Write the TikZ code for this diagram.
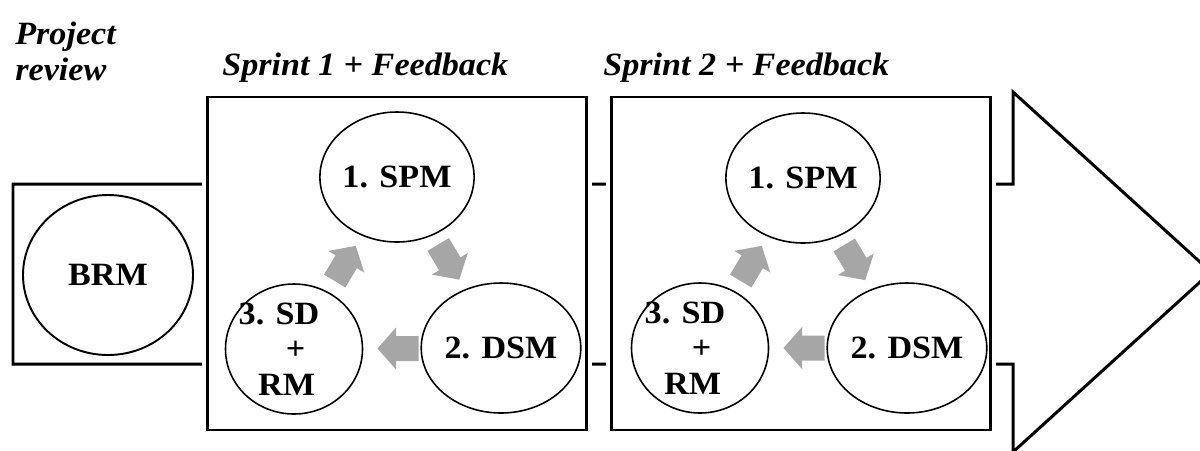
\documentclass[tikz,border=0pt]{standalone}
\usepackage{fontspec}
\setmainfont{Liberation Serif}[FakeStretch=1.05]
\usepackage{tikz}
\usetikzlibrary{shapes.geometric,calc}
\definecolor{arrowgray}{RGB}{166,166,166}

\begin{document}
\begin{tikzpicture}[
    phasebox/.style={draw=black, fill=white, line width=1.5pt,
        minimum width=7.58cm, minimum height=6.66cm,
        preaction={draw=white, line width=0.22cm}},
    stepcirc/.style={ellipse, draw=black, line width=0.9pt, fill=white,
        minimum width=2.74cm, minimum height=2.6cm, inner sep=0pt,
        font=\fontsize{18.5}{20}\selectfont\bfseries},
    steptxt/.style={font=\fontsize{18.5}{20.2}\selectfont\bfseries, inner sep=0pt},
    titlelbl/.style={font=\fontsize{18.5}{20.5}\selectfont\bfseries\itshape, inner sep=0pt},
    cyclearr/.pic={
        \fill[arrowgray] (-0.42,-0.25) -- (0.03,-0.25) -- (0.03,-0.42) -- (0.4,0)
            -- (0.03,0.42) -- (0.03,0.25) -- (-0.42,0.25) -- cycle;},
]
\useasboundingbox (0,0) rectangle (24,-9);

% === BIG ARROW (runs through both sprints) ===
\draw[line width=1.7pt, line join=miter]
    (0.26,-3.68) -- (20.26,-3.68) -- (20.26,-1.84) -- (24.22,-5.44)
    -- (20.26,-9.04) -- (20.26,-7.28) -- (0.26,-7.28) -- cycle;
\node[titlelbl, align=left, anchor=north west, font=\fontsize{18.5}{20.4}\selectfont\bfseries\itshape]
    (review) at (0.3,-0.44) {Project\\review};

% === BRM ===
\node[stepcirc, minimum width=3.4cm, minimum height=3.2cm, line width=1.1pt] (brm) at (2.16,-5.5) {BRM};

% === SPRINT 1 ===
\node[phasebox] (sprintA) at (7.94,-5.27) {};
\node[titlelbl, anchor=base west] (titleA) at (4.44,-1.5) {Sprint 1 + Feedback};
\node[stepcirc] (spmA) at (7.94,-3.54) {1. SPM};
\node[stepcirc] (dsmA) at (10.02,-6.96) {2. DSM};
\node[stepcirc] (sdA) at (5.88,-6.98) {};
\node[steptxt, align=left] (sdtxtA) at ([xshift=-0.3cm]sdA.center)
    {3. SD\\\hspace*{1.45em}+\\\hspace*{0.6em}RM};
\pic[rotate=-59] (arrA1) at ($(spmA)!0.5!(dsmA)$) {cyclearr};
\pic[rotate=180] (arrA2) at ($(dsmA)!0.5!(sdA)$) {cyclearr};
\pic[rotate=59]  (arrA3) at ($(sdA)!0.5!(spmA)$) {cyclearr};

% === SPRINT 2 ===
\node[phasebox] (sprintB) at (16.02,-5.27) {};
\node[titlelbl, anchor=base west] (titleB) at (12.06,-1.5) {Sprint 2 + Feedback};
\node[stepcirc] (spmB) at (16.06,-3.56) {1. SPM};
\node[stepcirc] (dsmB) at (18.14,-6.96) {2. DSM};
\node[stepcirc] (sdB) at (14.0,-6.96) {};
\node[steptxt, align=left] (sdtxtB) at ([xshift=-0.3cm]sdB.center)
    {3. SD\\\hspace*{1.45em}+\\\hspace*{0.6em}RM};
\pic[rotate=-59] (arrB1) at ($(spmB)!0.5!(dsmB)$) {cyclearr};
\pic[rotate=180] (arrB2) at ($(dsmB)!0.5!(sdB)$) {cyclearr};
\pic[rotate=59]  (arrB3) at ($(sdB)!0.5!(spmB)$) {cyclearr};

\end{tikzpicture}
\end{document}
